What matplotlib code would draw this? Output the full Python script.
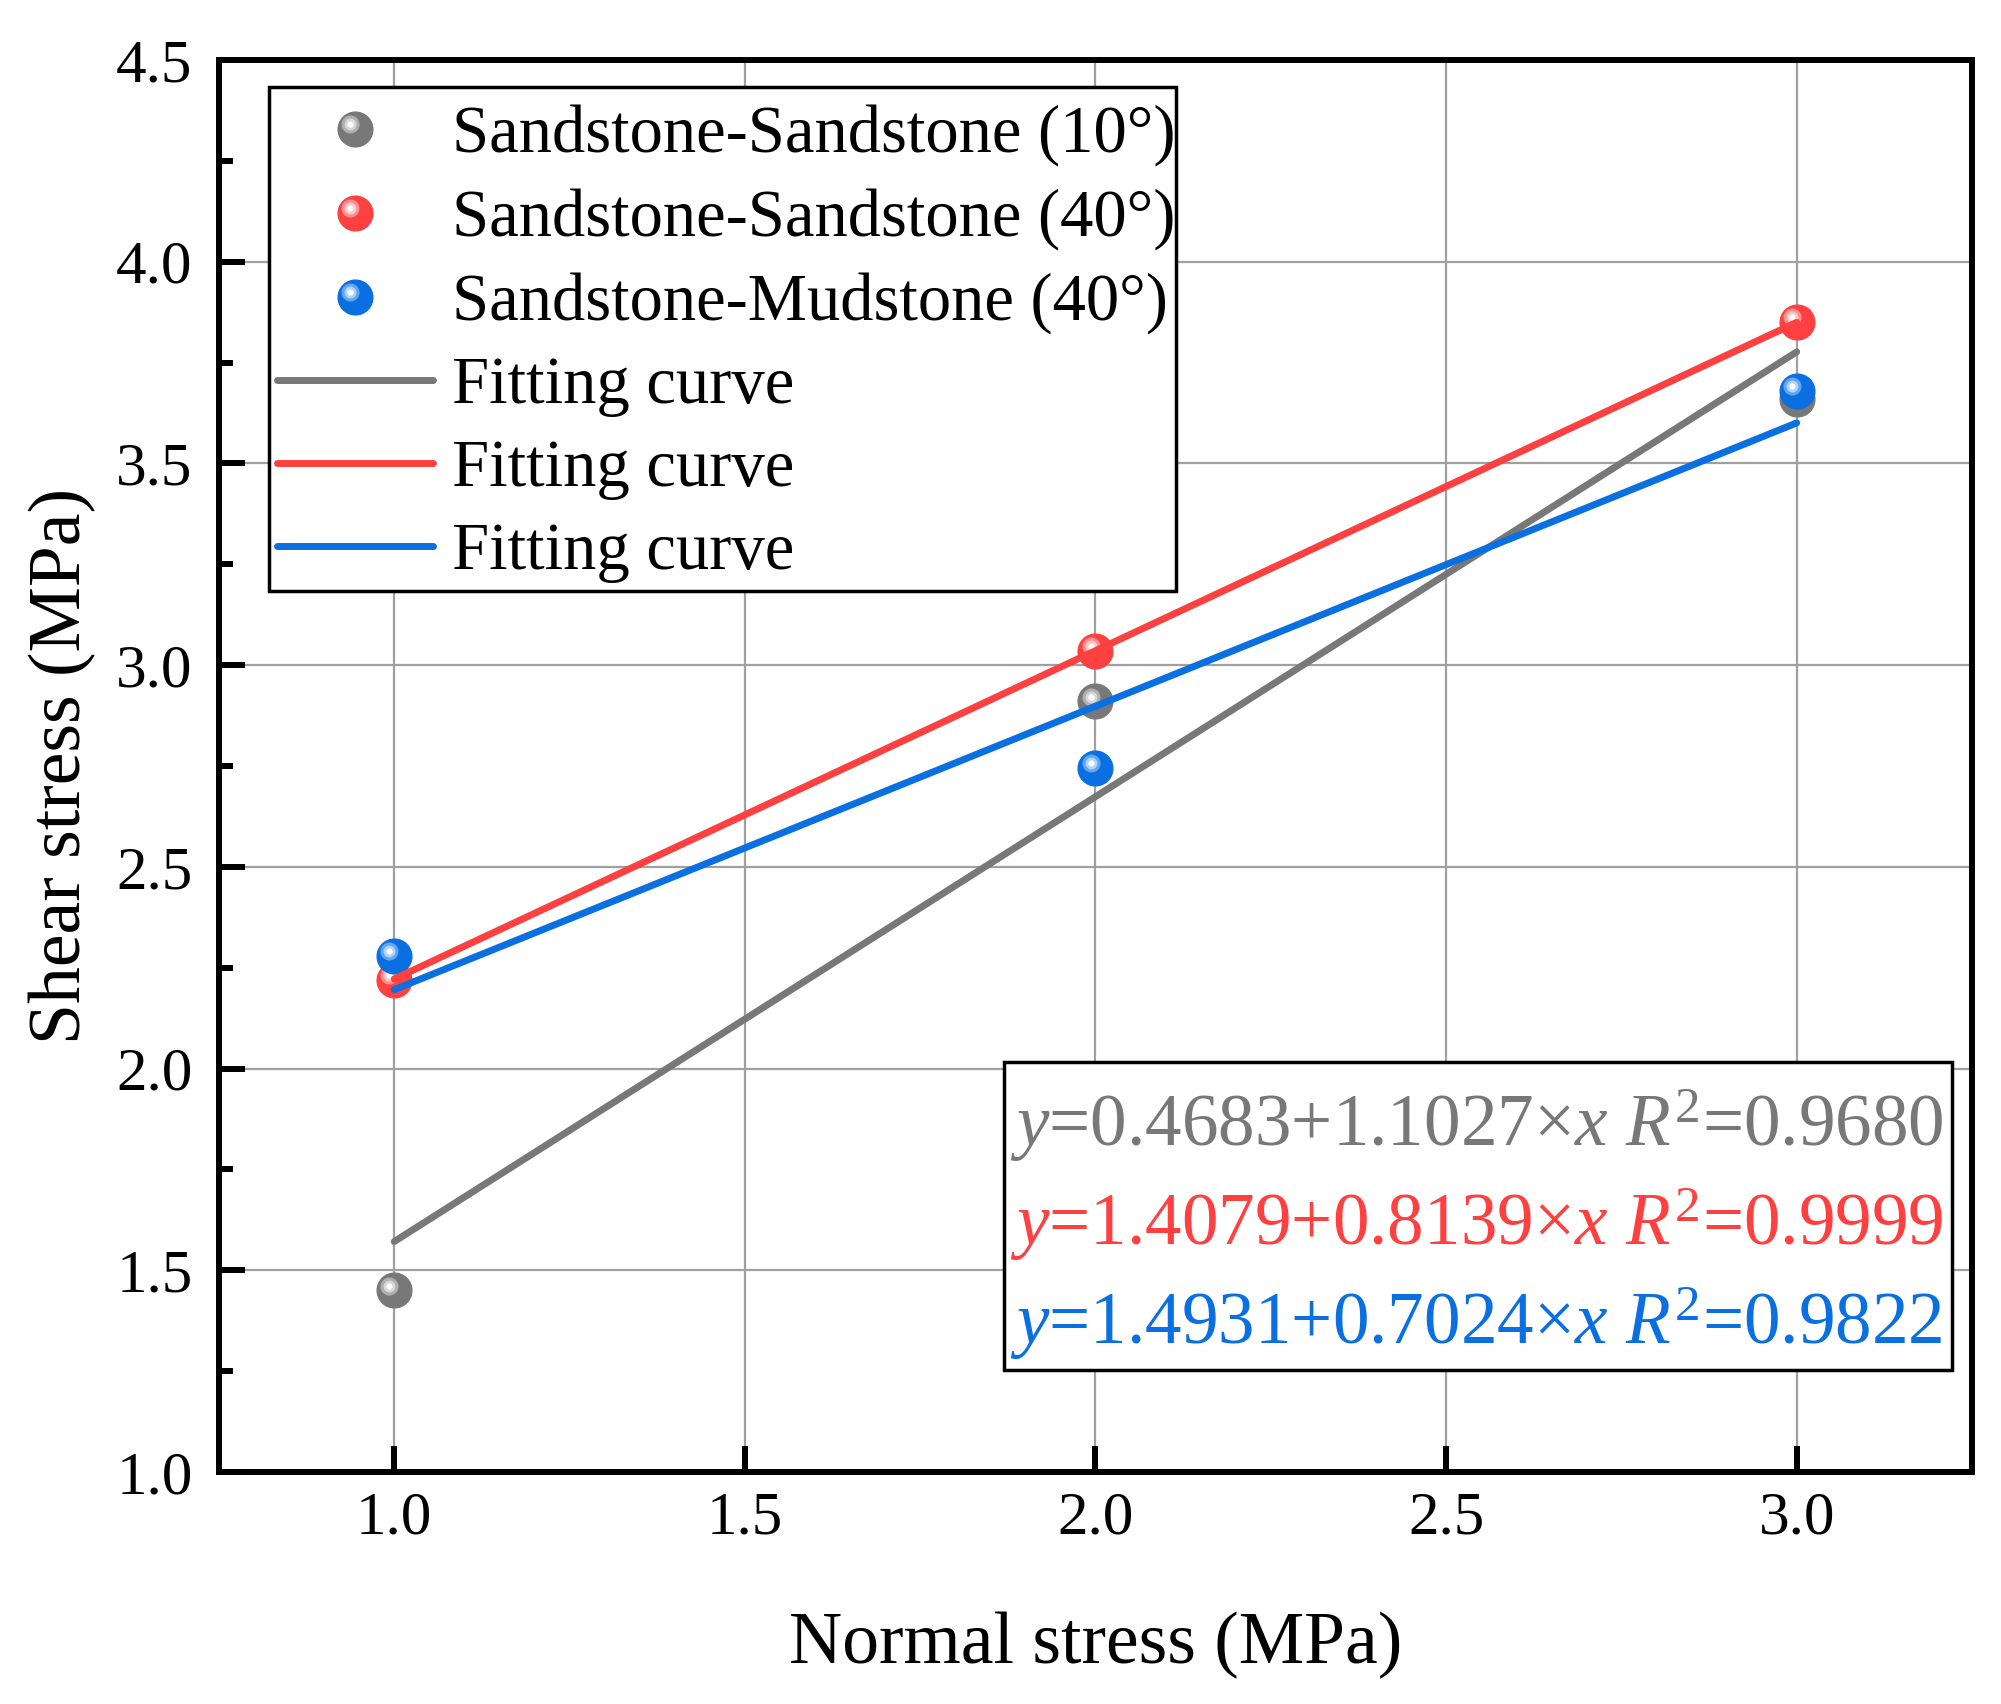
import numpy as np
import matplotlib
matplotlib.use("Agg")
import matplotlib.pyplot as plt
from matplotlib.lines import Line2D
from matplotlib.patches import Rectangle
from matplotlib.legend_handler import HandlerBase
from matplotlib.transforms import offset_copy

##############data######################################################
normal_stress = [1.0, 2.0, 3.0]
shear_ss10 = [1.45, 2.91, 3.66]    # Sandstone-Sandstone (10)
shear_ss40 = [2.22, 3.035, 3.85]   # Sandstone-Sandstone (40)
shear_sm40 = [2.28, 2.745, 3.68]   # Sandstone-Mudstone (40)

# fit: y = a + b*x , R^2
fit_ss10 = (0.4683, 1.1027, 0.9680)
fit_ss40 = (1.4079, 0.8139, 0.9999)
fit_sm40 = (1.4931, 0.7024, 0.9822)

labels = ["Sandstone-Sandstone (10°)",
          "Sandstone-Sandstone (40°)",
          "Sandstone-Mudstone (40°)"]
x_ticks = [1.0, 1.5, 2.0, 2.5, 3.0]
y_ticks = [1.0, 1.5, 2.0, 2.5, 3.0, 3.5, 4.0, 4.5]

##############style#####################################################
plt.rcParams['font.family'] = ['Liberation Serif', 'DejaVu Serif']
plt.rcParams['mathtext.fontset'] = 'custom'
plt.rcParams['mathtext.rm'] = 'Liberation Serif'
plt.rcParams['mathtext.it'] = 'Liberation Serif:italic'

# base, ring, light, core
col_gray = ['#787878', '#b0b0b0', '#d8d8d8', '#ffffff']
col_red = ['#ff4040', '#ff9090', '#ffc8c8', '#ffffff']
col_blue = ['#0a6fe0', '#62a6f2', '#b0d4f8', '#ffffff']
ms_ball = 25
hl_dx, hl_dy = -3.4, 3.4
hl_layers = [(13, 1), (8.5, 2), (4.5, 3)]


class Sphere(object):
    def __init__(self, cols):
        self.cols = cols


class SphereHandler(HandlerBase):
    def create_artists(self, legend, orig_handle, xdescent, ydescent,
                       width, height, fontsize, trans):
        cx = width / 2 - xdescent
        cy = height / 2 - ydescent
        c = orig_handle.cols
        arts = [Line2D([cx], [cy], ls='none', marker='o', ms=ms_ball,
                       mfc=c[0], mec=c[0], transform=trans)]
        for ms, k in hl_layers:
            arts.append(Line2D([cx + hl_dx], [cy + hl_dy], ls='none', marker='o',
                               ms=ms, mfc=c[k], mec='none', transform=trans))
        return arts


fig = plt.figure(figsize=(20.01, 17.04), dpi=100)
ax = fig.add_axes([0.1094, 0.1362, 0.8761, 0.8286])

hl_trans = offset_copy(ax.transData, fig=fig, x=hl_dx, y=hl_dy, units='points')

series = [(shear_ss10, col_gray, fit_ss10),
          (shear_ss40, col_red, fit_ss40),
          (shear_sm40, col_blue, fit_sm40)]

############## points ##############
for ys, c, fit in series:
    ax.plot(normal_stress, ys, ls='none', marker='o', ms=ms_ball,
            mfc=c[0], mec=c[0], zorder=3)
    for ms, k in hl_layers:
        ax.plot(normal_stress, ys, ls='none', marker='o', ms=ms,
                mfc=c[k], mec='none', zorder=3, transform=hl_trans)

############## fitting lines ##############
xfit = np.array([normal_stress[0], normal_stress[-1]])
for ys, c, fit in series:
    ax.plot(xfit, fit[0] + fit[1] * xfit, color=c[0], lw=5,
            solid_capstyle='round', zorder=4)

ax.set_xlim(0.75, 3.25)
ax.set_ylim(1.0, 4.5)
ax.set_xticks(x_ticks)
ax.set_yticks(y_ticks)
ax.set_xticklabels(["%.1f" % v for v in x_ticks])
ax.set_yticklabels(["%.1f" % v for v in y_ticks])
ax.set_yticks(np.arange(1.25, 4.5, 0.5), minor=True)
ax.grid(True, which='major', color='#a0a0a0', lw=1.6, zorder=0)
ax.set_axisbelow(True)
for s in ax.spines.values():
    s.set_linewidth(4.3)
ax.tick_params(axis='both', which='major', direction='in', length=19, width=4.3,
               labelsize=44, top=False, right=False)
ax.tick_params(axis='x', which='major', pad=14)
ax.tick_params(axis='y', which='major', pad=19)
ax.tick_params(axis='y', which='minor', direction='in', length=10, width=4.3,
               right=False)

fig.text(0.5474, 0.0241, "Normal stress (MPa)", fontsize=53,
         ha='center', va='baseline')
fig.text(0.031, 0.5505, "Shear stress (MPa)", fontsize=53, rotation=90,
         ha='center', va='center')

############## legend ##############
ax.add_patch(Rectangle((0.0285, 0.624), 0.546 - 0.0285, 0.981 - 0.624,
                       transform=ax.transAxes, facecolor='white',
                       edgecolor='black', lw=2.5, zorder=5))
handles = [Sphere(col_gray), Sphere(col_red), Sphere(col_blue),
           Line2D([], [], color=col_gray[0], lw=5, solid_capstyle='round'),
           Line2D([], [], color=col_red[0], lw=5, solid_capstyle='round'),
           Line2D([], [], color=col_blue[0], lw=5, solid_capstyle='round')]
leg_labels = labels + ["Fitting curve"] * 3
leg = ax.legend(handles, leg_labels, handler_map={Sphere: SphereHandler()},
                loc='upper left', bbox_to_anchor=(0.0331, 0.9685),
                borderaxespad=0, fontsize=48, frameon=False,
                handlelength=2.34, handletextpad=0.28, borderpad=0,
                labelspacing=0.33)
leg.set_zorder(6)

############## equation box ##############
ax.add_patch(Rectangle((0.4478, 0.0722), 0.9886 - 0.4478, 0.2904 - 0.0722,
                       transform=ax.transAxes, facecolor='white',
                       edgecolor='black', lw=2.5, zorder=6))
eq_y = [0.2309, 0.1608, 0.0907]
for (ys, c, fit), yy in zip(series, eq_y):
    s = r"$y$=%.4f+%.4f×$x$ $R^2$=%.4f" % fit
    ax.text(0.4512, yy, s, transform=ax.transAxes, fontsize=52.7,
            color=c[0], ha='left', va='baseline', zorder=7)

fig.savefig("out.png", dpi=100)
